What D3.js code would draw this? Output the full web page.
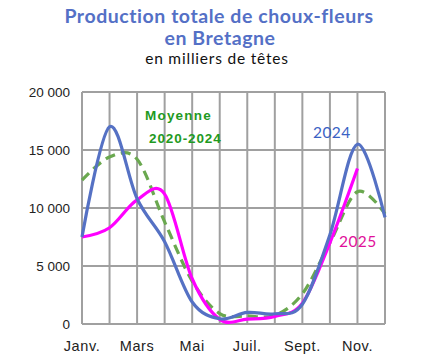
<!DOCTYPE html>
<html><head><meta charset="utf-8">
<script src="https://cdn.jsdelivr.net/npm/d3@7"></script>
<style>body{margin:0;background:#fff}svg{display:block}</style>
</head><body><svg id="c" width="428" height="363"></svg>
<script>
const months = ["Janv.","Févr.","Mars","Avr.","Mai","Juin","Juil.","Août","Sept.","Oct.","Nov.","Déc."];
const monthLabels = ["Janv.","","Mars","","Mai","","Juil.","","Sept.","","Nov.",""];
const yTicks = [0,5000,10000,15000,20000];
const moyenne = [12400,14400,14200,8800,3700,900,700,750,2600,7000,11400,9500];
const s2024 = [7500,17000,10800,7100,1900,450,1000,880,1700,7700,15500,9200];
const s2025 = [7500,8300,10700,11200,3900,400,420,650,1800,7000,13400];

const svg = d3.select("#c");
const L=82, R=385, T=92, B=324;
const x = d3.scalePoint().domain(months).range([L,R]);
const y = d3.scaleLinear().domain([0,20000]).range([B,T]);
const fmt = v => d3.format(",")(v).replace(/,/g," ");

// grid
const g = svg.append("g");
g.selectAll("line.v").data(months).join("line")
 .attr("x1",d=>x(d)).attr("x2",d=>x(d)).attr("y1",T).attr("y2",B)
 .attr("stroke","#a0a0a0").attr("stroke-width",2);
g.selectAll("line.h").data(yTicks).join("line")
 .attr("x1",L).attr("x2",R).attr("y1",d=>y(d)).attr("y2",d=>y(d))
 .attr("stroke","#a0a0a0").attr("stroke-width",2);

// axes labels
svg.append("g").selectAll("text").data(yTicks).join("text")
 .attr("x",70).attr("y",d=>y(d)+5).attr("text-anchor","end")
 .attr("font-family","Liberation Sans, Arial").attr("font-size",13.5).attr("fill","#222")
 .text(fmt);
svg.append("g").selectAll("text").data(months).join("text")
 .attr("x",d=>x(d)).attr("y",351).attr("text-anchor","middle")
 .attr("font-family","Liberation Sans, Arial").attr("font-size",14.5).attr("fill","#222")
 .attr("letter-spacing",0.6)
 .text((d,i)=>monthLabels[i]);

const line = d3.line().x((d,i)=>x(months[i])).y(d=>y(d)).curve(d3.curveCatmullRom.alpha(0));
svg.append("path").attr("d",line(moyenne)).attr("fill","none").attr("stroke","#6aa84f")
 .attr("stroke-width",3.2).attr("stroke-dasharray","10,6");
svg.append("path").attr("d",line(s2025)).attr("fill","none").attr("stroke","#ff00ff").attr("stroke-width",3.2);
svg.append("path").attr("d",line(s2024)).attr("fill","none").attr("stroke","#5571c4").attr("stroke-width",3.2);

// titles
const tf = "Lato, Open Sans, sans-serif";
svg.append("text").attr("x",219).attr("y",23).attr("text-anchor","middle").attr("font-family",tf)
 .attr("font-weight","bold").attr("font-size",19.5).attr("letter-spacing",0.55).attr("fill","#5470c6").text("Production totale de choux-fleurs");
svg.append("text").attr("x",220).attr("y",45).attr("text-anchor","middle").attr("font-family",tf)
 .attr("font-weight","bold").attr("font-size",19.5).attr("letter-spacing",0.55).attr("fill","#5470c6").text("en Bretagne");
svg.append("text").attr("x",217).attr("y",64).attr("text-anchor","middle").attr("font-family",tf)
 .attr("font-size",15.5).attr("letter-spacing",0.8).attr("fill","#111").text("en milliers de têtes");

// series labels
svg.append("text").attr("x",145).attr("y",120).attr("font-family","Liberation Sans, Arial").attr("font-weight","bold")
 .attr("font-size",13.5).attr("letter-spacing",1.2).attr("fill","#1f9a1f").text("Moyenne");
svg.append("text").attr("x",149).attr("y",143).attr("font-family","Liberation Sans, Arial").attr("font-weight","bold")
 .attr("font-size",13.5).attr("letter-spacing",0.9).attr("fill","#1f9a1f").text("2020-2024");
svg.append("text").attr("x",313).attr("y",138).attr("font-family",tf)
 .attr("font-size",15.5).attr("letter-spacing",0.4).attr("fill","#3a62c4").text("2024");
svg.append("text").attr("x",339).attr("y",247).attr("font-family",tf)
 .attr("font-size",15.5).attr("letter-spacing",0.4).attr("fill","#e0109a").text("2025");
</script></body></html>
